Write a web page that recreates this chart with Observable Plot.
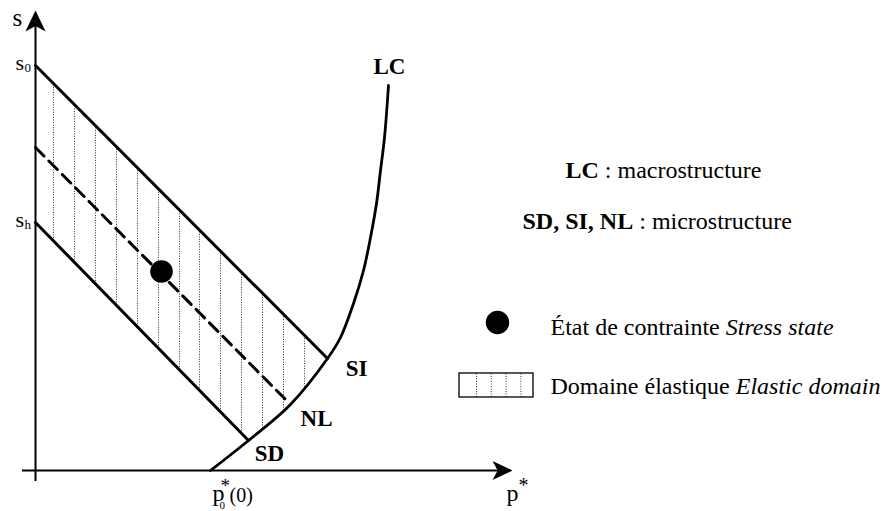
<!DOCTYPE html>
<html><head><meta charset="utf-8">
<script src="https://cdn.jsdelivr.net/npm/d3@7"></script>
<script src="https://cdn.jsdelivr.net/npm/@observablehq/plot@0.6"></script>
<style>
html,body{margin:0;padding:0;background:#fff;}
#chart{width:890px;height:511px;overflow:hidden;}
svg{display:block;}
</style></head><body><div id="chart"></div>
<script>
// ---- data (abstract units: p* horizontal, s vertical) ----
const sTickValues = [4.05, 2.48];          // s0, sh
const sTickSubs   = ["0", "h"];
const siLine = [{p: 0, s: 4.05}, {p: 2.92, s: 1.12}];   // SI
const sdLine = [{p: 0, s: 2.48}, {p: 2.13, s: 0.30}];   // SD
const nlLine = [{p: 0, s: 3.23}, {p: 2.53, s: 0.68}];   // NL (dashed)
const lcP = [1.75, 2.13, 2.55, 2.92, 3.05, 3.18, 3.28, 3.35, 3.41, 3.45, 3.49, 3.53];
const lcS = [0.00, 0.30, 0.66, 1.12, 1.33, 1.67, 2.00, 2.33, 2.67, 3.00, 3.33, 3.85];
const stressState = [{p: 1.26, s: 1.99}];
const hatchP = [0.18, 0.39, 0.60, 0.81, 1.02, 1.23, 1.44, 1.64, 1.85, 2.06, 2.27, 2.48, 2.69];
const curveLabels = ["LC", "SI", "NL", "SD"];
const legendHatchCount = 4;

// ---- layout helpers ----
const X0 = 35, Y0 = 470, UNIT = 100;
const fx = px => (px - X0) / UNIT, fy = py => (Y0 - py) / UNIT;
const FONT = "'Liberation Serif', 'DejaVu Serif', serif";

const lcPts = lcP.map((p, i) => ({p, s: lcS[i]}));
function interp(pts, p) {
  for (let i = 0; i < pts.length - 1; i++) {
    const a = pts[i], b = pts[i + 1];
    if (p >= a.p && p <= b.p) return a.s + (b.s - a.s) * (p - a.p) / (b.p - a.p);
  }
  const a = pts[0], b = pts[pts.length - 1];
  return a.s + (b.s - a.s) * (p - a.p) / (b.p - a.p);
}
const hatch = hatchP.map(p => {
  const top = interp(siLine, p);
  const sd = interp(sdLine, p);
  const lc = p >= lcP[0] ? interp(lcPts, p) : -Infinity;
  return {p, top, bot: Math.max(sd, lc)};
});

const arrowHead = {
  draw(ctx, size) {
    const L = Math.sqrt(size / Math.PI);
    ctx.moveTo(0, 0);
    ctx.lineTo(0.48 * L, L);
    ctx.lineTo(0, 0.74 * L);
    ctx.lineTo(-0.48 * L, L);
    ctx.closePath();
  }
};

const measureCtx = document.createElement("canvas").getContext("2d");
function rich(segs, x0, baseline, size) {
  let x = x0; const marks = [];
  for (const sg of segs) {
    const weight = sg.bold ? "bold" : "normal", style = sg.italic ? "italic" : "normal";
    measureCtx.font = `${style} ${weight} ${size}px ${FONT}`;
    marks.push(Plot.text([sg.text], {
      frameAnchor: "top-left", dx: x, dy: baseline, text: d => d,
      textAnchor: "start", lineAnchor: "bottom", fontSize: size,
      fontWeight: weight, fontStyle: style, fontFamily: FONT, fill: "black"
    }));
    x += measureCtx.measureText(sg.text).width;
  }
  return marks;
}
function lbl(data, o) {
  return Plot.text(data, Object.assign({lineAnchor: "bottom", fontFamily: FONT, fill: "black", textAnchor: "start"}, o));
}

const yTip = fy(10), xTip = fx(512);
const anchors = {
  LC: {p: lcP[lcP.length - 1], s: lcS[lcS.length - 1], dx: 1, dy: -12},
  SI: {p: siLine[1].p, s: siLine[1].s, dx: 29, dy: 17},
  NL: {p: nlLine[1].p, s: nlLine[1].s, dx: 28, dy: 23},
  SD: {p: sdLine[1].p, s: sdLine[1].s, dx: 21, dy: 20}
};

const legendRect = {x1: fx(459), x2: fx(533), y1: fy(397), y2: fy(373)};
const legendHatch = d3.range(legendHatchCount).map(i => fx(476 + i * 14.8));

const chart = Plot.plot({
  width: 890, height: 511, margin: 0,
  x: {domain: [fx(0), fx(890)], axis: null},
  y: {domain: [fy(511), fy(0)], axis: null},
  style: {background: "white"},
  marks: [
    // hatch (elastic domain)
    Plot.ruleX(hatch, {x: "p", y1: "bot", y2: "top", stroke: "#333", strokeWidth: 1, strokeDasharray: "1,1.5"}),
    // axes
    Plot.ruleX([0], {y1: fy(481), y2: fy(24), stroke: "black", strokeWidth: 2}),
    Plot.ruleY([0], {x1: fx(22), x2: fx(498), stroke: "black", strokeWidth: 2}),
    Plot.dot([{p: 0, s: yTip}], {x: "p", y: "s", symbol: arrowHead, r: 21, fill: "black", stroke: "none"}),
    Plot.dot([{p: xTip, s: 0}], {x: "p", y: "s", symbol: arrowHead, r: 20, rotate: 90, fill: "black", stroke: "none"}),
    // lines
    Plot.line(siLine, {x: "p", y: "s", stroke: "black", strokeWidth: 3}),
    Plot.line(sdLine, {x: "p", y: "s", stroke: "black", strokeWidth: 3}),
    Plot.line(nlLine, {x: "p", y: "s", stroke: "black", strokeWidth: 3, strokeDasharray: "12,7"}),
    Plot.line(lcPts, {x: "p", y: "s", stroke: "black", strokeWidth: 2.8, curve: "catmull-rom"}),
    Plot.dot(stressState, {x: "p", y: "s", r: 11.3, fill: "black", stroke: "none"}),
    // curve labels
    ...curveLabels.map(l => lbl([l], {x: () => anchors[l].p, y: () => anchors[l].s,
      dx: anchors[l].dx, dy: anchors[l].dy, text: d => d,
      fontWeight: "bold", fontSize: 23, textAnchor: "middle"})),
    // axis labels
    lbl(["s"], {x: () => 0, y: () => yTip, dx: -23, dy: 15, text: d => d, fontSize: 25}),
    lbl(sTickValues, {x: () => 0, y: d => d, dx: -20, dy: 4, text: () => "s", fontSize: 22}),
    lbl(sTickValues.map((v, i) => ({v, t: sTickSubs[i]})), {x: () => 0, y: "v", dx: -11, dy: 6, text: "t", fontSize: 13}),
    lbl(["p"], {x: () => xTip, y: () => 0, dx: -6, dy: 30, text: d => d, fontSize: 24}),
    lbl(["*"], {x: () => xTip, y: () => 0, dx: 6, dy: 21, text: d => d, fontSize: 20}),
    lbl(["p"], {x: () => lcP[0], y: () => 0, dx: 2, dy: 30, text: d => d, fontSize: 24}),
    lbl(["*"], {x: () => lcP[0], y: () => 0, dx: 10, dy: 21, text: d => d, fontSize: 19}),
    lbl(["0"], {x: () => lcP[0], y: () => 0, dx: 9, dy: 38, text: d => d, fontSize: 11}),
    lbl(["(0)"], {x: () => lcP[0], y: () => 0, dx: 19, dy: 31, text: d => d, fontSize: 20}),
    // legend
    ...rich([{text: "LC ", bold: true}, {text: ": macrostructure"}], 565, 177, 24),
    ...rich([{text: "SD, SI, NL ", bold: true}, {text: ": microstructure"}], 522, 228, 24),
    Plot.dot([0], {frameAnchor: "top-left", dx: 497, dy: 322, r: 11.7, fill: "black", stroke: "none"}),
    ...rich([{text: "État de contrainte "}, {text: "Stress state", italic: true}], 550, 334, 24),
    Plot.ruleX(legendHatch, {x: d => d, y1: legendRect.y1, y2: legendRect.y2, stroke: "#333", strokeWidth: 1, strokeDasharray: "1,1.5"}),
    Plot.rect([legendRect], {x1: "x1", x2: "x2", y1: "y1", y2: "y2", fill: "none", stroke: "black", strokeWidth: 1.3}),
    ...rich([{text: "Domaine élastique "}, {text: "Elastic domain", italic: true}], 550, 393, 24)
  ]
});
document.getElementById("chart").appendChild(chart);
</script></body></html>
